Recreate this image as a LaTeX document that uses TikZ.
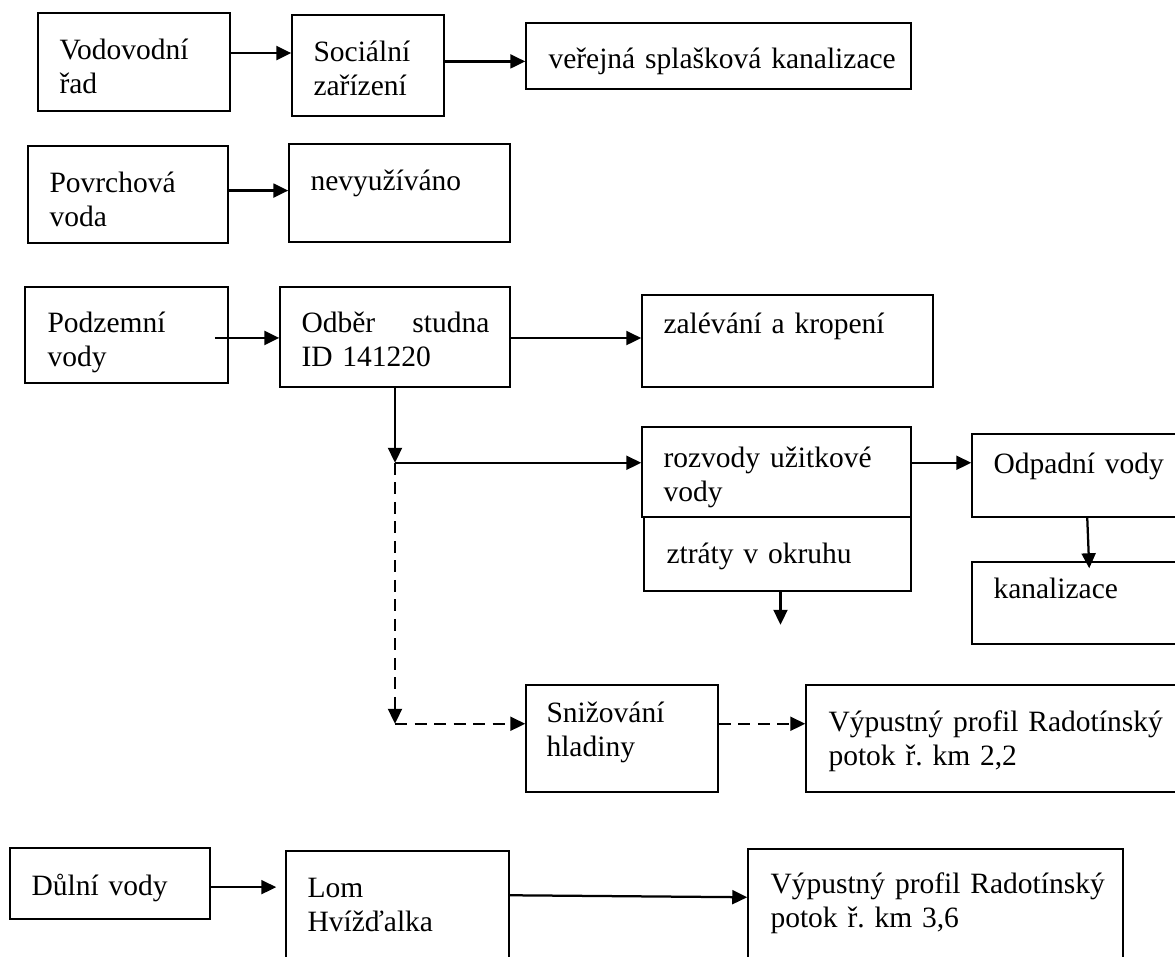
\documentclass[tikz,border=0pt]{standalone}
\usepackage{fontspec}
\setmainfont{Liberation Serif}
\usetikzlibrary{arrows.meta,calc,fit}

\colorlet{box edge}{black}
\tikzset{box/.style={draw=box edge, line width=0.6pt, inner sep=0pt},
    boxtext/.style={anchor=base west, inner sep=0pt, text width=200pt, align=left,
        font=\fontsize{11.8}{13.6}\selectfont\frenchspacing},
    flow/.style={-{Triangle[length=6pt,width=5.6pt]}, line width=0.9pt},
    dashflow/.style={flow, dash pattern=on 4.8pt off 3pt}}

\begin{document}
\begin{tikzpicture}[x=0.4pt, y=-0.4pt]
    \useasboundingbox (0,0) rectangle (1175,956);

    % boxes
    \node[box, fit={(38,13) (230,111)}] (vodovod) {};
    \node[box, fit={(292,15) (444,116)}] (social) {};
    \node[box, fit={(526,23) (911,89)}] (verejna) {};
    \node[box, fit={(28,146) (228,243)}] (povrch) {};
    \node[box, fit={(289,144) (510,242)}] (nevyuz) {};
    \node[box, fit={(25,287) (228,383)}] (podzem) {};
    \node[box, fit={(280,287) (510,387)}] (odber) {};
    \node[box, fit={(642,295) (933,387)}] (zalev) {};
    \node[box, fit={(642,427) (911,517)}] (rozvod) {};
    \node[box, fit={(644,517) (911,591)}] (ztraty) {};
    \node[box, fit={(972,434) (1190,517)}] (odpad) {};
    \node[box, fit={(972,562) (1190,644)}] (kanal) {};
    \node[box, fit={(526,685) (718,792)}] (snizov) {};
    \node[box, fit={(806,685) (1190,792)}] (vypust1) {};
    \node[box, fit={(10,848) (210,919)}] (dulni) {};
    \node[box, fit={(286,851) (509,970)}] (lom) {};
    \node[box, fit={(748,849) (1123,970)}] (vypust2) {};

    % texts
    \node[boxtext] (vodovod text) at (59,59) {Vodovodní\\řad};
    \node[boxtext] (social text) at (313,61) {Sociální\\zařízení};
    \node[boxtext] (verejna text) at (548,68) {veřejná splašková kanalizace};
    \node[boxtext] (povrch text) at (49,192) {Povrchová\\voda};
    \node[boxtext] (nevyuz text) at (310,190) {nevyužíváno};
    \node[boxtext] (podzem text) at (47,332) {Podzemní\\vody};
    \node[boxtext, text width=75.2pt] (odber text) at (301,332) {Odběr\hfill studna\\ID 141220};
    \node[boxtext] (zalev text) at (663,333) {zalévání a kropení};
    \node[boxtext] (rozvod text) at (663,467) {rozvody užitkové\\vody};
    \node[boxtext] (ztraty text) at (666,563) {ztráty v okruhu};
    \node[boxtext] (odpad text) at (993,473) {Odpadní vody};
    \node[boxtext] (kanal text) at (993,598) {kanalizace};
    \node[boxtext] (snizov text) at (546,722) {Snižování\\hladiny};
    \node[boxtext] (vypust1 text) at (828,731) {Výpustný profil Radotínský\\potok ř. km 2,2};
    \node[boxtext] (dulni text) at (31,895) {Důlní vody};
    \node[boxtext] (lom text) at (307,897) {Lom\\Hvížďalka};
    \node[boxtext] (vypust2 text) at (770,893) {Výpustný profil Radotínský\\potok ř. km 3,6};

    % connectors
    \coordinate (vs) at ($(vodovod.north east)!.41!(vodovod.south east)$);
    \draw[flow] (vs) -- (vs -| social.west);
    \coordinate (sv) at ($(social.north east)!.46!(social.south east)$);
    \draw[flow] (sv) -- (sv -| verejna.west);
    \coordinate (pn) at ($(povrch.north east)!.46!(povrch.south east)$);
    \draw[flow] (pn) -- (pn -| nevyuz.west);
    \coordinate (po) at ($(podzem.north east)!.53!(podzem.south east)+(-14,0)$);
    \draw[flow] (po) -- (po -| odber.west);
    \coordinate (oz) at ($(odber.north east)!.51!(odber.south east)$);
    \draw[flow] (oz) -- (oz -| zalev.west);

    \coordinate (split) at ($(odber.south)+(0,75)$);
    \coordinate (bend) at ($(split)+(0,261)$);
    \draw[flow] (odber.south) -- (split);
    \draw[flow] (split) -- (split -| rozvod.west);
    \draw[flow] (split -| rozvod.east) -- (split -| odpad.west);
    \draw[dashflow] (split) -- (bend);
    \draw[dashflow] (bend) -- (bend -| snizov.west);
    \draw[dashflow] (bend -| snizov.east) -- (bend -| vypust1.west);

    \coordinate (loss) at ($(ztraty.south)+(3,33)$);
    \draw[flow] ($(ztraty.south)+(3,0)$) -- (loss);
    \draw[flow] ($(odpad.south west)+(116,0)$) -- ($(kanal.north west)+(118,7)$);

    \coordinate (dl) at ($(dulni.north east)!.55!(dulni.south east)$);
    \draw[flow, shorten >=3.6pt] (dl) -- (dl -| lom.west);
    \draw[flow] ($(lom.north east)+(0,45)$) -- ($(vypust2.north west)+(0,49)$);
%    \node[anchor=south] at (current bounding box.north) {};
\end{tikzpicture}
\end{document}
